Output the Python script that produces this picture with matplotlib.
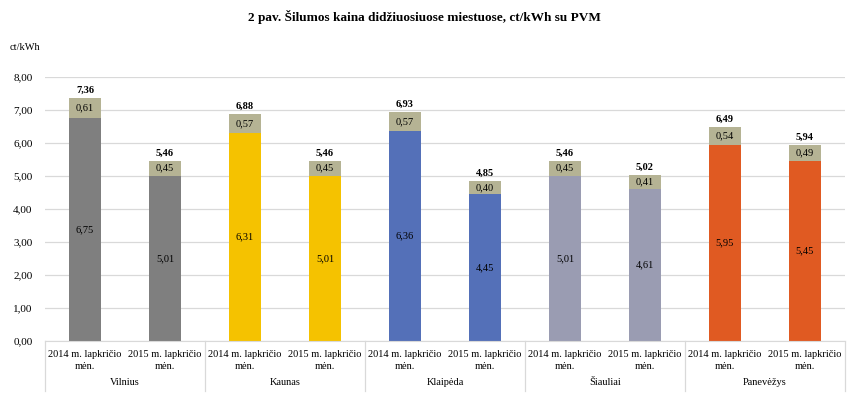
import matplotlib.pyplot as plt
import numpy as np

plt.rcParams['font.family'] = ['Liberation Serif', 'DejaVu Serif']

cities = ["Vilnius", "Kaunas", "Klaipėda", "Šiauliai", "Panevėžys"]
periods = ["2014 m. lapkričio\nmėn.", "2015 m. lapkričio\nmėn."]
base = [6.75, 5.01, 6.31, 5.01, 6.36, 4.45, 5.01, 4.61, 5.95, 5.45]
vat = [0.61, 0.45, 0.57, 0.45, 0.57, 0.40, 0.45, 0.41, 0.54, 0.49]
totals = [7.36, 5.46, 6.88, 5.46, 6.93, 4.85, 5.46, 5.02, 6.49, 5.94]
city_colors = ["#7f7f7f", "#f5c200", "#5470b8", "#9a9cb2", "#e05a22"]
vat_color = "#b5b394"

fig = plt.figure(figsize=(8.48, 3.93), dpi=100)
ax = fig.add_axes([45 / 848, 52 / 393, 800 / 848, 264 / 393])

x = np.arange(len(base))
colors = [city_colors[i // 2] for i in range(len(base))]

ax.bar(x, base, width=0.4, color=colors, zorder=2)
ax.bar(x, vat, bottom=base, width=0.4, color=vat_color, zorder=2)

def fmt(v):
    return f"{v:.2f}".replace(".", ",")

for i in range(len(base)):
    ax.text(x[i], base[i] / 2, fmt(base[i]), ha='center', va='center', fontsize=7.5)
    ax.text(x[i], base[i] + vat[i] / 2, fmt(vat[i]), ha='center', va='center', fontsize=7.5)
    ax.text(x[i], totals[i] + 0.1, fmt(totals[i]), ha='center', va='bottom',
            fontsize=7.5, fontweight='bold')

ax.set_xlim(-0.5, len(base) - 0.5)
ax.set_ylim(0, 8)
ax.set_yticks(np.arange(0, 9, 1))
ax.set_yticklabels([fmt(v) for v in np.arange(0, 9, 1)], fontsize=8)
ax.tick_params(axis='y', length=0, pad=9)
ax.yaxis.grid(True, color='#d9d9d9', linewidth=0.9, zorder=0)
ax.set_xticks([])
for s in ['top', 'right', 'left']:
    ax.spines[s].set_visible(False)
ax.spines['bottom'].set_color('#d9d9d9')

# category labels
for i in range(len(base)):
    ax.text(x[i], -0.27, periods[i % 2], ha='center', va='top', fontsize=7.5,
            linespacing=1.45)
for j, c in enumerate(cities):
    ax.text(2 * j + 0.5, -1.12, c, ha='center', va='top', fontsize=7.5)

# group separators
for j in range(len(cities) + 1):
    ax.plot([2 * j - 0.5, 2 * j - 0.5], [0, -1.5], color='#d9d9d9', linewidth=0.9,
            clip_on=False)

fig.text(424 / 848, 1 - 17 / 393, "2 pav. Šilumos kaina didžiuosiuose miestuose, ct/kWh su PVM",
         ha='center', va='center', fontsize=9.5, fontweight='bold')
fig.text(10 / 848, 1 - 47 / 393, "ct/kWh", ha='left', va='center', fontsize=7.5)

fig.savefig("out.png", dpi=100)
